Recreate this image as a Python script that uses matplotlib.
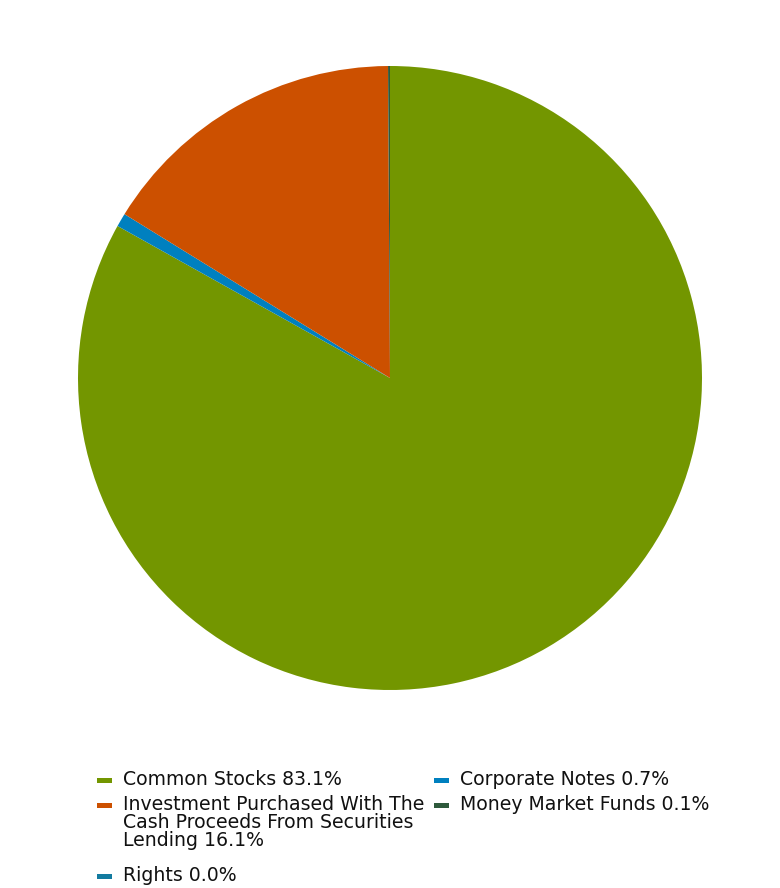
import matplotlib.pyplot as plt
from matplotlib.patches import Rectangle

# Portfolio breakdown (percent of total)
categories = ["Common Stocks", "Corporate Notes",
              "Investment Purchased With The\nCash Proceeds From Securities\nLending",
              "Money Market Funds", "Rights"]
values = [83.1, 0.7, 16.1, 0.1, 0.0]
colors = ["#739600", "#0080BF", "#CC5000", "#2E5A3C", "#137BA0"]

W, H = 780, 888
fig = plt.figure(figsize=(W / 100, H / 100), dpi=100)
ax = fig.add_axes([0.1, 1 - (378 + 312) / H, 0.8, 624 / H])

ax.pie(values, colors=colors, startangle=90, counterclock=False,
       wedgeprops=dict(linewidth=0))
ax.set_xlim(-1, 1)
ax.set_ylim(-1, 1)
ax.set_aspect("equal")
ax.axis("off")

# legend drawn by hand: (column x of handle, baseline y of first line) in pixels
slots = {0: (97, 786), 1: (434, 786), 2: (97, 811), 3: (434, 811), 4: (97, 882)}
for i, (cat, val, col) in enumerate(zip(categories, values, colors)):
    hx, by = slots[i]
    fig.add_artist(Rectangle((hx / W, 1 - (by - 3) / H), 15 / W, 5 / H,
                             transform=fig.transFigure, color=col, lw=0))
    fig.text((hx + 26) / W, 1 - (by - 16) / H, f"{cat} {val:.1f}%", fontsize=13.6,
             va="top", ha="left", linespacing=0.93, color="#111111")

fig.savefig("out.png", dpi=100)
